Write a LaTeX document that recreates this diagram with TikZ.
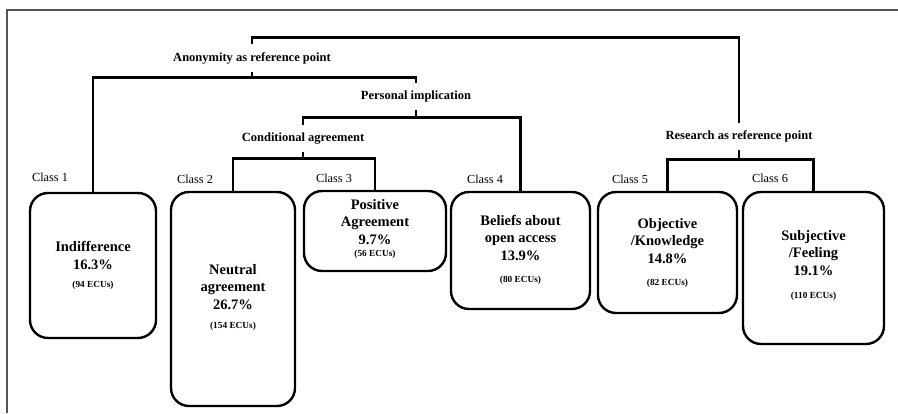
\documentclass[tikz,border=0pt]{standalone}
\usepackage{fontspec}
\setmainfont{Liberation Serif}
\usepackage{xcolor}
\usetikzlibrary{calc}
\definecolor{framegray}{RGB}{85,85,85}

\tikzset{
  classbox/.style={draw, line width=2.4pt, rounded corners=18pt, align=center,
    inner sep=0pt, font=\bfseries\fontsize{14.5}{17.5}\selectfont},
  branch/.style={font=\bfseries\fontsize{12.5}{15}\selectfont,
    text height=9pt, text depth=3pt, inner ysep=7.5pt, inner xsep=2pt},
  classlabel/.style={font=\fontsize{12.3}{14}\selectfont, inner sep=0pt},
  tree/.style={line width=2.6pt},
}
% last line of a box, with extra depth to lift the text
\newcommand{\ecus}[2][0pt]{{\fontsize{9.3}{11}\selectfont(#2 ECUs)}\rule[-#1]{0pt}{0pt}}

\begin{document}
\begin{tikzpicture}[x=1pt, y=-1pt]
\useasboundingbox (0,0) rectangle (898,413);
% Frame
\draw[framegray, line width=1.6pt] (7,413) -- (7,10) -- (898,10);

% Branch labels
\node[branch] (anon) at (252,58) {Anonymity as reference point};
\node[branch] (pers) at (416,96.5) {Personal implication};
\node[branch] (cond) at (303,138.5) {Conditional agreement};
\node[branch] (research) at (739,136.5) {Research as reference point};

% Classes
\node[classlabel] (class1) at (50,177) {Class 1};
\node[classlabel] (class2) at (195,179) {Class 2};
\node[classlabel] (class3) at (334,178) {Class 3};
\node[classlabel] (class4) at (485,179) {Class 4};
\node[classlabel] (class5) at (630,179) {Class 5};
\node[classlabel] (class6) at (770,178) {Class 6};

\node[classbox, minimum width=126, minimum height=145] (box1) at (93,265.5)
  {Indifference\\16.3\%\\[0.5pt]\ecus{94}};
\node[classbox, minimum width=124, minimum height=214] (box2) at (233,299)
  {Neutral\\agreement\\26.7\%\\[1.5pt]\ecus[6pt]{154}};
\node[classbox, minimum width=142, minimum height=80] (box3) at (375,231)
  {Positive\\Agreement\\9.7\%\\[-5.5pt]\ecus[7pt]{56}};
\node[classbox, minimum width=139, minimum height=117] (box4) at (520.5,250.5)
  {Beliefs about\\open access\\13.9\%\\[4.5pt]\ecus[4pt]{80}};
\node[classbox, minimum width=139, minimum height=121] (box5) at (667.5,252.5)
  {Objective\\/Knowledge\\14.8\%\\[4.5pt]\ecus[2pt]{82}};
\node[classbox, minimum width=141, minimum height=152] (box6) at (813.5,268)
  {Subjective\\/Feeling\\19.1\%\\[5.5pt]\ecus[8pt]{110}};

% Tree
\draw[tree] (anon.north) -- ++(0,-7) -| (research.north);
\draw[tree] (anon.south) -- ++(0,6) coordinate (jA);
\draw[tree] (box1.north) |- (jA) -| (pers.north);
\draw[tree] (pers.south) -- ++(0,7) coordinate (jP);
\draw[tree] (cond.north) |- (jP) -| (box4.north);
\draw[tree] (cond.south) -- ++(0,6) coordinate (jC);
\draw[tree] (box2.north) |- (jC) -| (box3.north);
\draw[tree] (research.south) -- ++(0,9) coordinate (jR);
\draw[tree] (box5.north) |- (jR) -| (box6.north);
\end{tikzpicture}
\end{document}
